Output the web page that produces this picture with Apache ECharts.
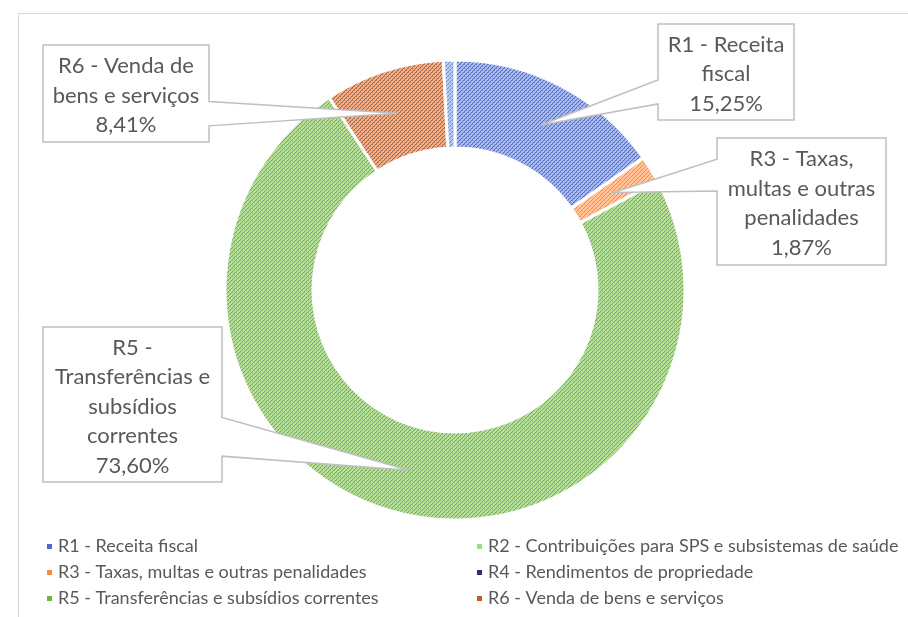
<!DOCTYPE html>
<html>
<head>
<meta charset="utf-8">
<script src="https://cdn.jsdelivr.net/npm/echarts@6/dist/echarts.min.js"></script>
<style>
    html, body { margin: 0; padding: 0; background: #fff; }
    #chart { width: 908px; height: 617px; }
</style>
</head>
<body>
<div id="chart"></div>
<script>
// receitas por rubrica (%)
const categories = [
    'R1 - Receita fiscal',
    'R2 - Contribuições para SPS e subsistemas de saúde',
    'R3 - Taxas, multas e outras penalidades',
    'R4 - Rendimentos de propriedade',
    'R5 - Transferências e subsídios correntes',
    'R6 - Venda de bens e serviços',
    'R7 - Outras receitas correntes'
];
const values = [15.25, 0.03, 1.87, 0.03, 73.60, 8.41, 0.81];
const colors = ['#4a6bd6', '#9ee06a', '#ff8a3d', '#22337a', '#6db33f', '#c8581c', '#6e8fe0'];

// legenda em duas colunas
const legendLeft = ['R1 - Receita fiscal', 'R3 - Taxas, multas e outras penalidades', 'R5 - Transferências e subsídios correntes'];
const legendRight = ['R2 - Contribuições para SPS e subsistemas de saúde', 'R4 - Rendimentos de propriedade', 'R6 - Venda de bens e serviços'];

// rótulos (callouts)
const calloutIndex = [0, 2, 4, 5];
const calloutLines = ['R1 - Receita\nfiscal', 'R3 - Taxas,\nmultas e outras\npenalidades', 'R5 -\nTransferências e\nsubsídios\ncorrentes', 'R6 - Venda de\nbens e serviços'];

// caixa de cada callout: x, y, w, h
const calloutBox = [
    [658, 24, 136, 96],
    [717, 138, 169, 127],
    [43, 327, 179, 155],
    [43, 45, 166, 97]
];

const FONT = 'Lato, "Noto Sans", sans-serif';

function mix(hex, t) {
    let r = parseInt(hex.substr(1, 2), 16), g = parseInt(hex.substr(3, 2), 16), b = parseInt(hex.substr(5, 2), 16);
    r = Math.round(r + (255 - r) * t); g = Math.round(g + (255 - g) * t); b = Math.round(b + (255 - b) * t);
    return 'rgb(' + r + ',' + g + ',' + b + ')';
}

// padrão diagonal tipo excel
function makePattern(hex) {
    let c = document.createElement('canvas');
    c.width = 4; c.height = 4;
    let ctx = c.getContext('2d');
    ctx.fillStyle = mix(hex, 0.55);
    ctx.fillRect(0, 0, 4, 4);
    ctx.fillStyle = hex;
    for (let x = 0; x < 4; x++) {
        ctx.fillRect(x, 3 - x, 1, 1);
    }
    ctx.fillStyle = mix(hex, 0.25);
    for (let x = 0; x < 4; x += 2) {
        ctx.fillRect(x, (4 - x) % 4, 1, 1);
    }
    return c;
}

function fmt(v) {
    return v.toFixed(2).replace('.', ',') + '%';
}

let chart = echarts.init(document.getElementById('chart'));

let pieData = categories.map((name, i) => ({
    name: name,
    value: values[i],
    itemStyle: { color: { image: makePattern(colors[i]), repeat: 'repeat' } }
}));

function legendItems(list) {
    return list.map(n => ({ name: n, itemStyle: { color: colors[categories.indexOf(n)] } }));
}

let legendBase = {
    orient: 'vertical',
    top: 531,
    icon: 'rect',
    itemWidth: 7,
    itemHeight: 7,
    itemGap: 5,
    textStyle: { fontSize: 18, color: '#595959', fontFamily: FONT, lineHeight: 21 },
    selectedMode: false
};

chart.setOption({
    animation: false,
    legend: [
        Object.assign({}, legendBase, { left: 40, data: legendItems(legendLeft) }),
        Object.assign({}, legendBase, { left: 470, data: legendItems(legendRight) })
    ],
    series: [{
        type: 'pie',
        center: [455, 290],
        radius: [142, 230],
        startAngle: 90,
        clockwise: true,
        avoidLabelOverlap: false,
        label: { show: false },
        labelLine: { show: false },
        emphasis: { disabled: true },
        itemStyle: { borderColor: '#fff', borderWidth: 3 },
        data: pieData
    }]
});

// callouts a partir do layout do próprio pie
let seriesData = chart.getModel().getSeriesByIndex(0).getData();
let graphics = [{
    type: 'rect',
    shape: { x: 18.5, y: 13.5, width: 1000, height: 1000 },
    style: { fill: 'none', stroke: '#d9d9d9', lineWidth: 1 },
    z: 0
}];

calloutIndex.forEach((idx, k) => {
    let lay = seriesData.getItemLayout(idx);
    let mid = (lay.startAngle + lay.endAngle) / 2;
    let rr = (lay.r + lay.r0) / 2;
    let tx = lay.cx + rr * Math.cos(mid);
    let ty = lay.cy + rr * Math.sin(mid);
    let [x0, y0, w, h] = calloutBox[k];
    let x1 = x0 + w, y1 = y0 + h;
    let below = ty > y0 + h / 2;
    let yb1 = y0 + h * (below ? 7 : 2) / 12;
    let yb2 = y0 + h * (below ? 10 : 5) / 12;
    let pts;
    if (tx < x0) {
        pts = [[x0, y0], [x1, y0], [x1, y1], [x0, y1], [x0, yb2], [tx, ty], [x0, yb1]];
    } else {
        pts = [[x0, y0], [x1, y0], [x1, yb1], [tx, ty], [x1, yb2], [x1, y1], [x0, y1]];
    }
    graphics.push({
        type: 'polygon',
        shape: { points: pts },
        style: { fill: '#fff', stroke: '#bfbfbf', lineWidth: 1.5 },
        z: 10
    });
    graphics.push({
        type: 'text',
        x: x0 + w / 2,
        y: y0 + h / 2 + 2,
        style: {
            text: calloutLines[k] + '\n' + fmt(values[idx]),
            align: 'center',
            verticalAlign: 'middle',
            font: '22px ' + FONT,
            lineHeight: 29.5,
            fill: '#595959'
        },
        z: 11
    });
});

chart.setOption({ graphic: graphics });
</script>
</body>
</html>
